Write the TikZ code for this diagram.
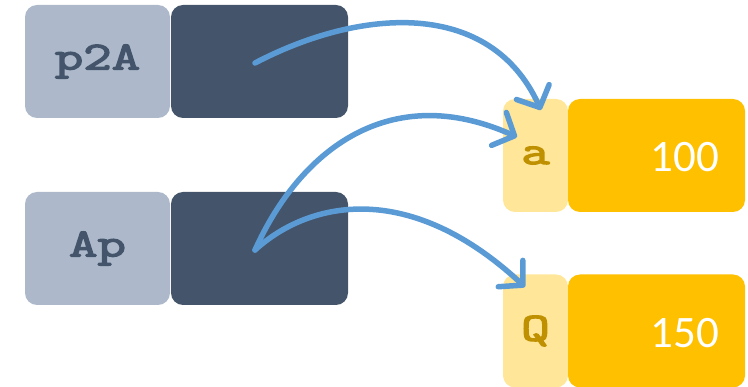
\documentclass[tikz,border=0pt]{standalone}
\usepackage{fontspec}
\usetikzlibrary{arrows.meta}
\newfontfamily\numf{Carlito}
\newfontfamily\courb[FakeBold=3]{Latin Modern Mono}
\definecolor{lblue}{HTML}{ADB9CA}
\definecolor{dslate}{HTML}{44546A}
\definecolor{lyel}{HTML}{FFE699}
\definecolor{yel}{HTML}{FFC000}
\definecolor{gold}{HTML}{BF9000}
\definecolor{arr}{HTML}{5B9BD5}
\newcommand{\monolbl}[1]{\scalebox{1.38}[1]{#1}}
\tikzset{
  box/.style={rectangle, rounded corners=12pt, inner sep=0pt, minimum height=113pt},
  namebox/.style={box, fill=lblue, minimum width=145pt, text=dslate,
     font=\courb\fontsize{40}{40}\selectfont},
  ptrbox/.style={box, fill=dslate, minimum width=177pt},
  vname/.style={box, fill=lyel, minimum width=65pt, text=gold,
     font=\courb\fontsize{40}{40}\selectfont},
  valbox/.style={box, fill=yel, minimum width=177pt},
  valtxt/.style={inner sep=0pt, text=white, font=\numf\fontsize{45}{45}\selectfont},
  ptr/.style={draw=arr, line width=5.5pt, line cap=round,
     -{Straight Barb[length=17pt, width=36pt, line width=5.5pt, round]}}
}
\begin{document}
\begin{tikzpicture}[x=1pt,y=-1pt]
\useasboundingbox (0,0) rectangle (748,387);
% pointer variables
\node[namebox] (p2A) at (97.5,61.5) {\monolbl{p2A}};
\node[ptrbox] (p2Av) at (259.5,61.5) {};
\node[namebox] (Ap) at (97.5,248.5) {\monolbl{Ap}};
\node[ptrbox] (Apv) at (259.5,248.5) {};
% targets
\node[vname] (a) at (535.5,155.5) {\monolbl{a}};
\node[valbox] (av) at (656.5,155.5) {};
\node[valtxt] (a100) at (685,157) {100};
\node[vname] (Q) at (535.5,331) {\monolbl{Q}};
\node[valbox] (Qv) at (656.5,331) {};
\node[valtxt] (Q150) at (685,333) {150};
% connector end points
\coordinate (s1) at (255,63);
\coordinate (s2) at (255,250);
\coordinate (t1) at (541,110);
\coordinate (t2) at (517,137);
\coordinate (t3) at (525,287);
\draw[ptr] (s1) .. controls (360,8) and (490,-2) .. (t1);
\draw[ptr] (s2) .. controls (300,150) and (390,80) .. (t2);
\draw[ptr] (s2) .. controls (310,200) and (410,180) .. (t3);
\end{tikzpicture}
\end{document}
